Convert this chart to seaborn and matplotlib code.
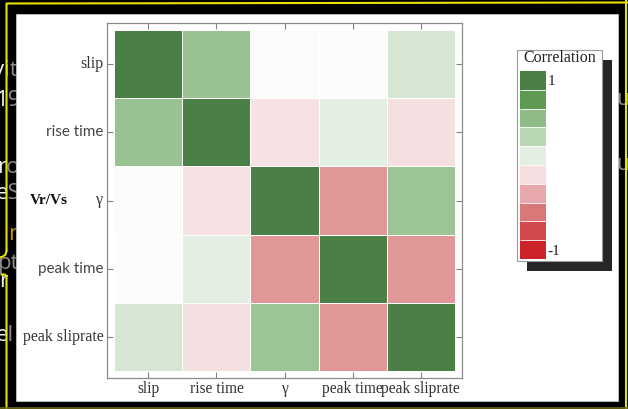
import numpy as np
import pandas as pd
import matplotlib
matplotlib.use("Agg")
import matplotlib.pyplot as plt
import seaborn as sns
from matplotlib.colors import LinearSegmentedColormap, ListedColormap, BoundaryNorm
from matplotlib.patches import Rectangle
from matplotlib.lines import Line2D
from matplotlib.transforms import Bbox, TransformedBbox
from matplotlib.cm import ScalarMappable

# ---- data ---------------------------------------------------------------
params = ["slip", "rise time", "γ", "peak time", "peak sliprate"]
corr_slip = [1.00, 0.45, 0.02, -0.01, 0.17]
corr_rise_time = [0.45, 1.00, -0.09, 0.10, -0.10]
corr_gamma = [0.02, -0.09, 1.00, -0.37, 0.43]
corr_peak_time = [-0.01, 0.10, -0.37, 1.00, -0.37]
corr_peak_sliprate = [0.17, -0.10, 0.43, -0.37, 1.00]

# discrete legend levels (bottom = -1, top = 1)
legend_levels = np.linspace(-1, 1, 11)
legend_colors = ["#cc2229", "#d24a4d", "#d87879", "#e6a8aa", "#f5dfe0",
                 "#e3efe3", "#b9d6b5", "#8fbb86", "#5f9a52", "#4a7f45"]
legend_tick_labels = ["-1", "1"]

# continuous red-white-green map used for the matrix cells
anchor_values = [-1.0, -0.9, -0.7, -0.5, -0.3, -0.1, 0.0, 0.1, 0.3, 0.5, 0.7, 0.9, 1.0]
anchor_colors = ["#cc2229", "#cc2229", "#d24a4d", "#d87879", "#e6a8aa", "#f5dfe0",
                 "#ffffff", "#e3efe3", "#b9d6b5", "#8fbb86", "#5f9a52", "#4a7f45", "#4a7f45"]

corr = pd.DataFrame([corr_slip, corr_rise_time, corr_gamma, corr_peak_time,
                     corr_peak_sliprate], index=params, columns=params)

# ---- figure -------------------------------------------------------------
W, H = 628, 409
def fx(x):
    return x / W
def fy(y):
    return 1 - y / H

sns.set_theme(style="white")
plt.rcParams["font.family"] = ["Liberation Serif", "DejaVu Serif"]

fig = plt.figure(figsize=(W / 100, H / 100), dpi=100, facecolor="black")

# slide text peeking out at the left / right borders
frag_font = dict(family=["Open Sans", "DejaVu Sans"], fontsize=16, va="baseline", ha="left")
fragments = [("vit", -7, 76, True), ("19", -4, 106, True), ("ro", -3, 173, True),
             ("eS", -4, 199, True), ("pt", -3, 269, False), ("el", -4, 341, True)]

def clipped_text(s, x, y, color, x0, x1, **kw):
    t = fig.text(fx(x), fy(y), s, color=color, zorder=-3, **kw)
    t.set_clip_on(True)
    t.set_clip_box(TransformedBbox(Bbox.from_extents(fx(x0), 0, fx(x1), 1), fig.transFigure))
    return t

for s, x, y, has_white in fragments:
    clipped_text(s, x, y, "#8a8a8a", 6.5 if has_white else 0, W, **frag_font)
    if has_white:
        clipped_text(s, x, y, "#f0f0f0", 0, 6.5, **frag_font)
clipped_text("r", -1, 287, "#f0f0f0", 0, 8, **frag_font)
clipped_text("m", 8, 240, "#c99400", 0, W, **frag_font)
clipped_text("u", 616, 105, "#8a8a8a", 0, W, **frag_font)
clipped_text("u", 616, 170, "#8a8a8a", 0, W, **frag_font)

# white slide panel
fig.add_artist(Rectangle((fx(16), fy(401)), (618 - 16) / W, (401 - 14) / H,
                         transform=fig.transFigure, facecolor="white",
                         edgecolor="#d0d0d0", lw=0.5, zorder=-2))

# ---- correlation matrix -------------------------------------------------
cmap = LinearSegmentedColormap.from_list(
    "rwg", [((v + 1) / 2, c) for v, c in zip(anchor_values, anchor_colors)])

ax = fig.add_axes([fx(107), fy(378), (462 - 107) / W, (378 - 23) / H])
sns.heatmap(corr, ax=ax, cmap=cmap, vmin=-1, vmax=1, cbar=False,
            linewidths=0.6, linecolor="white",
            xticklabels=params, yticklabels=params)
pad_cells = 0.11
ax.set_xlim(-pad_cells, len(params) + pad_cells)
ax.set_ylim(len(params) + pad_cells, -pad_cells)
for sp in ax.spines.values():
    sp.set_visible(True)
    sp.set_color("#8c8c8c")
    sp.set_linewidth(0.9)
ax.tick_params(axis="both", direction="in", length=4.5, width=0.8, color="#808080",
               top=True, right=True, left=True, bottom=True,
               labeltop=False, labelright=False, labelsize=11.5, labelcolor="#333333")
ax.tick_params(axis="x", pad=2.5, labelsize=11.2)
ax.tick_params(axis="y", pad=2.5)
ax.set_xlabel("")
ax.set_ylabel("")
for lbl in ax.get_xticklabels():
    lbl.set_rotation(0)
for lbl in ax.get_yticklabels():
    lbl.set_rotation(0)
    lbl.set_va("center")
    if lbl.get_text() in ("rise time", "peak time"):
        lbl.set_fontfamily(["Lato", "DejaVu Sans"])
        lbl.set_fontsize(11)
        lbl.set_color("#454545")

fig.text(fx(30), fy(201), "Vr/Vs", fontsize=11, fontweight="bold",
         color="#111111", ha="left", va="center")

# ---- correlation legend -------------------------------------------------
fig.add_artist(Rectangle((fx(527), fy(271)), (612 - 527) / W, (271 - 60) / H,
                         transform=fig.transFigure, facecolor="#262626",
                         edgecolor="none", zorder=-1))
fig.add_artist(Rectangle((fx(517), fy(261)), (602 - 517) / W, (261 - 50) / H,
                         transform=fig.transFigure, facecolor="white",
                         edgecolor="#9a9a9a", lw=0.8, zorder=-0.5))
fig.text(fx(560), fy(58), "Correlation", ha="center", va="center",
         fontsize=11.5, color="#222222")

cax = fig.add_axes([fx(520), fy(259), (546 - 520) / W, (259 - 71) / H])
centers = (legend_levels[:-1] + legend_levels[1:]) / 2
sm = ScalarMappable(norm=BoundaryNorm(legend_levels, len(legend_colors)),
                    cmap=ListedColormap(legend_colors))
cb = fig.colorbar(sm, cax=cax, ticks=[centers[0], centers[-1]], drawedges=True)
cb.outline.set_visible(False)
cb.dividers.set_color("white")
cb.dividers.set_linewidth(0.6)
cax.minorticks_off()
cax.set_yticklabels(legend_tick_labels)
cax.tick_params(which="both", length=0, pad=1, labelsize=11, labelcolor="#222222")

# ---- yellow selection frame --------------------------------------------
yellow = "#e8e400"
def fig_line(xs, ys, color=yellow, lw=1.5):
    fig.add_artist(Line2D([fx(x) for x in xs], [fy(y) for y in ys],
                          transform=fig.transFigure, color=color, lw=lw,
                          solid_joinstyle="round", zorder=5))

fig_line([6.5, 6.5, 628], [251, 3.5, 2.5])
fig_line([6.5, 5.5, 3, 0], [251, 254.5, 256.5, 257.5])
fig_line([1.5, 5, 6.5, 6.5], [274.5, 274.5, 277, 409])
fig_line([626, 626], [0, 409])
fig_line([0, 628], [408.2, 408.2], color="#6e6a10", lw=1.2)

fig.savefig("out.png", dpi=100, facecolor=fig.get_facecolor())
